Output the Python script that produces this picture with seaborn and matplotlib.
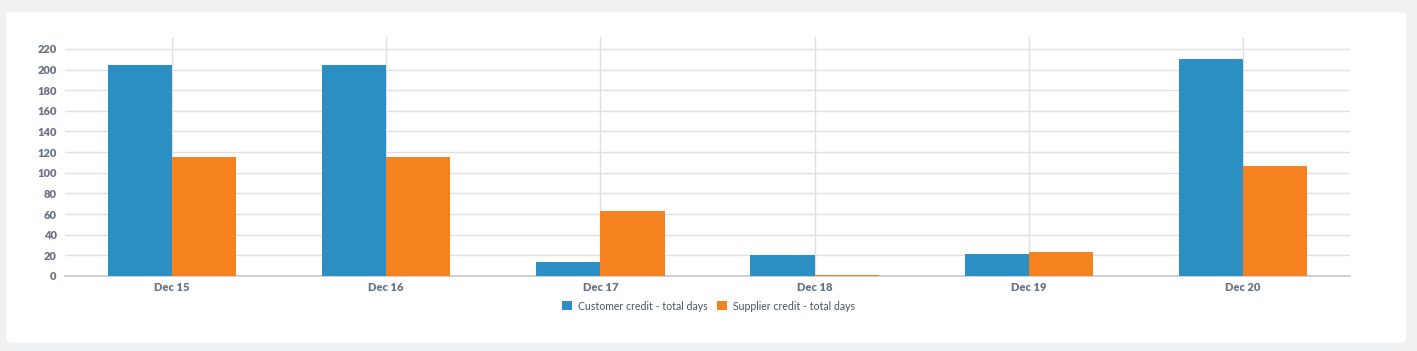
import matplotlib
matplotlib.use("Agg")
import matplotlib.pyplot as plt
from matplotlib.patches import FancyBboxPatch, Patch
import pandas as pd
import seaborn as sns

# chart data
dates = ["Dec 15", "Dec 16", "Dec 17", "Dec 18", "Dec 19", "Dec 20"]
customer_days = [204, 204, 14, 20, 21, 210]
supplier_days = [115, 115, 63, 1, 23, 107]
series = ["Customer credit - total days", "Supplier credit - total days"]
colors = ["#2b8fc3", "#f5821f"]

df = pd.DataFrame({
    "Date": dates * 2,
    "Days": customer_days + supplier_days,
    "Series": [series[0]] * len(dates) + [series[1]] * len(dates),
})

sns.set_theme(style="white")
plt.rcParams["font.family"] = ["Lato", "DejaVu Sans"]

fig = plt.figure(figsize=(14.17, 3.51), dpi=100)
fig.patch.set_facecolor("#f0f1f3")

# white card behind the chart
card = FancyBboxPatch((6 / 1417, 8 / 351), 1400 / 1417, 331 / 351,
                      boxstyle="round,pad=0,rounding_size=0.008",
                      transform=fig.transFigure, facecolor="white",
                      edgecolor="none", zorder=-10)
fig.add_artist(card)

ax = fig.add_axes([65 / 1417, 1 - 276 / 351, 1285 / 1417, 239 / 351])
ax.set_facecolor("none")
ax.set_zorder(1)

sns.barplot(data=df, x="Date", y="Days", hue="Series", palette=colors,
            width=0.6, saturation=1, ax=ax, legend=False, zorder=3,
            edgecolor="none", linewidth=0)

ax.set_xlim(-0.5, len(dates) - 0.5)
ax.set_ylim(0, 231.5)
ax.set_yticks(range(0, 221, 20))

ax.grid(True, axis="both", color="#e0e0e3", linewidth=1, zorder=0)
ax.set_axisbelow(True)
for s in ["top", "right", "left"]:
    ax.spines[s].set_visible(False)
ax.spines["bottom"].set_color("#c4c8cf")
ax.spines["bottom"].set_linewidth(1.2)

ax.tick_params(axis="both", length=0, colors="#687285", labelsize=8, pad=6)
ax.tick_params(axis="x", pad=4.5)
for lbl in ax.get_xticklabels() + ax.get_yticklabels():
    lbl.set_fontweight("heavy")
ax.set_xlabel("")
ax.set_ylabel("")

handles = [Patch(facecolor=c, edgecolor="none") for c in colors]
fig.legend(handles, series, loc="center", bbox_to_anchor=(0.5, 1 - 306 / 351),
           ncol=2, frameon=False, fontsize=7.6, labelcolor="#4b5563",
           handlelength=0.9, handleheight=0.9, handletextpad=0.6,
           columnspacing=0.9)

fig.savefig("out.png", dpi=100, facecolor=fig.get_facecolor())
